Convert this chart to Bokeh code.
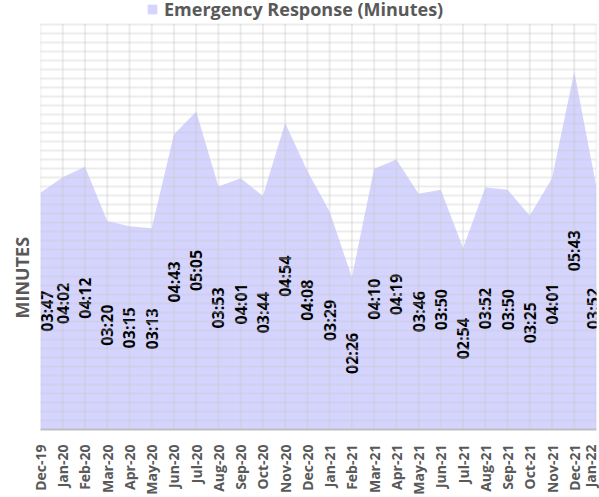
import math
from bokeh.plotting import figure
from bokeh.models import (ColumnDataSource, FixedTicker, Range1d, Legend, LegendItem, Title)
from bokeh.core.properties import value
from bokeh.embed import file_html
from bokeh.resources import INLINE

months = ["Dec-19", "Jan-20", "Feb-20", "Mar-20", "Apr-20", "May-20", "Jun-20", "Jul-20",
          "Aug-20", "Sep-20", "Oct-20", "Nov-20", "Dec-20", "Jan-21", "Feb-21", "Mar-21",
          "Apr-21", "May-21", "Jun-21", "Jul-21", "Aug-21", "Sep-21", "Oct-21", "Nov-21",
          "Dec-21", "Jan-22"]
times = ["03:47", "04:02", "04:12", "03:20", "03:15", "03:13", "04:43", "05:05",
         "03:53", "04:01", "03:44", "04:54", "04:08", "03:29", "02:26", "04:10",
         "04:19", "03:46", "03:50", "02:54", "03:52", "03:50", "03:25", "04:01",
         "05:43", "03:52"]

secs = [int(t.split(":")[0]) * 60 + int(t.split(":")[1]) for t in times]
xs = list(range(len(months)))
# labels at the ends are nudged inward so they stay inside the plot area
nudge = [6 if i == 0 else (-4 if i == len(xs) - 1 else 0) for i in xs]
src = ColumnDataSource(dict(x=xs, secs=secs, half=[s / 2 for s in secs], lab=times, dx=nudge))

Y_MAX = 388.8      # 0:06:28.8 (Excel time axis max)
Y_STEP = 8.64      # 0.0001 day
PLOT_PX = 412      # pixel height of the gridded plot area
TOP_PX = 24        # pixel band above it holding the legend
Y_TOP = Y_MAX * (PLOT_PX + TOP_PX) / PLOT_PX

p = figure(width=599, height=497, x_range=Range1d(0, len(months) - 1), y_range=Range1d(0, Y_TOP),
           output_backend="svg", toolbar_location=None,
           min_border_left=40, min_border_right=3, min_border_top=0, min_border_bottom=61)
p.outline_line_color = None
p.background_fill_color = "white"
p.border_fill_color = "white"

area = p.varea(x="x", y1=0, y2="secs", source=src, fill_color="#d4d4ff", fill_alpha=1.0)

# vertical grid lines (one per month) limited to the plot area, drawn over the area
p.segment(x0="x", y0=0, x1="x", y1=Y_MAX, source=src, line_color="#c8c8c8",
          line_alpha=0.35, line_width=2)

p.text(x="x", y="half", text="lab", source=src, angle=math.pi / 2, x_offset="dx",
       text_align="center", text_baseline="middle", text_font=value("Open Sans"),
       text_font_style="bold", text_font_size="16px", text_color="black")

# axes
p.yaxis.visible = False
xa = p.xaxis[0]
xa.ticker = FixedTicker(ticks=xs)
xa.major_label_overrides = {i: m for i, m in enumerate(months)}
xa.major_label_orientation = math.pi / 2
xa.major_label_text_font = "Open Sans"
xa.major_label_text_font_style = "bold"
xa.major_label_text_font_size = "14px"
xa.major_label_text_color = "#595959"
xa.major_tick_line_color = None
xa.minor_tick_line_color = None
xa.axis_line_color = "#bfbfbf"
xa.axis_line_width = 2
xa.major_label_standoff = 9

# horizontal grid on top of the area
p.xgrid.visible = False
p.ygrid.ticker = FixedTicker(ticks=[i * Y_STEP for i in range(46)])
g = p.ygrid[0]
g.grid_line_color = "#c8c8c8"
g.grid_line_alpha = 0.35
g.grid_line_width = 2
g.level = "overlay"

# y title
ytitle = Title(text="MINUTES", align="left", text_font="Open Sans", text_font_style="bold",
               text_font_size="18px", text_color="#595959", offset=111, standoff=13)
p.add_layout(ytitle, "left")

legend = Legend(items=[LegendItem(label="Emergency Response (Minutes)", renderers=[area])],
                location=(106, PLOT_PX - 4), orientation="horizontal", padding=0, margin=0,
                glyph_height=12, glyph_width=12, label_standoff=6,
                label_text_font="Open Sans", label_text_font_style="bold",
                label_text_font_size="18px", label_text_color="#595959",
                border_line_alpha=0, background_fill_alpha=0)
p.add_layout(legend)

open("out.html", "w").write(file_html(p, INLINE))
